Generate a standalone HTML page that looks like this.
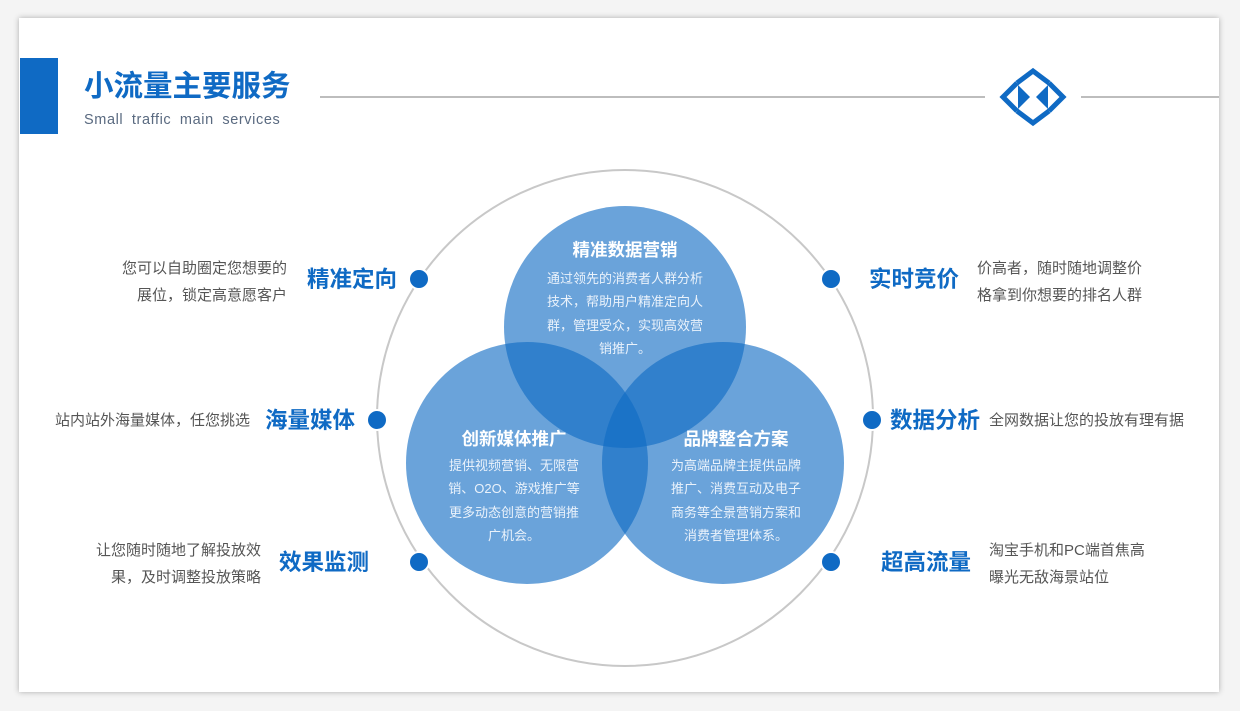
<!DOCTYPE html>
<html><head><meta charset="utf-8"><style>
html,body{margin:0;padding:0;background:#f2f2f2;width:1240px;height:711px;overflow:hidden}
svg{display:block}
text{font-family:"Liberation Sans","Noto Sans CJK SC",sans-serif}
</style></head><body>
<svg width="1240" height="711" viewBox="0 0 1240 711">
<defs><filter id="sh" x="-5%" y="-5%" width="110%" height="110%"><feDropShadow dx="0" dy="0" stdDeviation="3" flood-color="#000" flood-opacity="0.3"/></filter></defs>
<rect x="0" y="0" width="1240" height="711" fill="#f4f4f4"/>
<rect x="19" y="18" width="1200" height="674" fill="#fff" filter="url(#sh)"/>
<rect x="20" y="58" width="38" height="76" fill="#0f6ac4"/>
<text x="84" y="96" font-size="29.5" font-weight="bold" fill="#0f6ac4">小流量主要服务</text>
<text x="84" y="124" font-size="14.5" fill="#5a6a80" letter-spacing="0.6" word-spacing="4">Small traffic main services</text>
<line x1="320" y1="97" x2="985" y2="97" stroke="#bdbdbd" stroke-width="2"/>
<line x1="1081" y1="97" x2="1219" y2="97" stroke="#bdbdbd" stroke-width="2"/>
<g fill="none" stroke="#0f6ac4" stroke-width="5">
<polyline points="1017,83 1033,71 1049,83"/>
<polyline points="1017,111 1033,123 1049,111"/>
<polyline points="1017,83 1003,97 1017,111"/>
<polyline points="1049,83 1063,97 1049,111"/>
</g>
<polygon points="1018,85 1030,97 1018,109" fill="#0f6ac4"/>
<polygon points="1048,85 1036,97 1048,109" fill="#0f6ac4"/>
<circle cx="625" cy="418" r="248" fill="none" stroke="#c8c8c8" stroke-width="2"/>
<g fill="#0f6ac4" fill-opacity="0.62">
<circle cx="625" cy="327" r="121"/>
<circle cx="527" cy="463" r="121"/>
<circle cx="723" cy="463" r="121"/>
</g>
<g fill="#0f6ac4" stroke="#fff" stroke-width="2">
<circle cx="419" cy="279" r="10"/><circle cx="377" cy="420" r="10"/><circle cx="419" cy="562" r="10"/>
<circle cx="831" cy="279" r="10"/><circle cx="872" cy="420" r="10"/><circle cx="831" cy="562" r="10"/>
</g>
<g fill="#fff" text-anchor="middle">
<text x="625" y="256" font-size="17.5" font-weight="bold">精准数据营销</text>
<g font-size="13" fill="#eaf2fb">
<text x="625" y="283">通过领先的消费者人群分析</text>
<text x="625" y="306">技术，帮助用户精准定向人</text>
<text x="625" y="330">群，管理受众，实现高效营</text>
<text x="625" y="353">销推广。</text>
</g>
<text x="514" y="445" font-size="17.5" font-weight="bold">创新媒体推广</text>
<g font-size="13" fill="#eaf2fb">
<text x="514" y="470">提供视频营销、无限营</text>
<text x="514" y="493">销、O2O、游戏推广等</text>
<text x="514" y="517">更多动态创意的营销推</text>
<text x="514" y="540">广机会。</text>
</g>
<text x="736" y="445" font-size="17.5" font-weight="bold">品牌整合方案</text>
<g font-size="13" fill="#eaf2fb">
<text x="736" y="470">为高端品牌主提供品牌</text>
<text x="736" y="493">推广、消费互动及电子</text>
<text x="736" y="517">商务等全景营销方案和</text>
<text x="736" y="540">消费者管理体系。</text>
</g>
</g>
<g font-size="22.5" font-weight="bold" fill="#0f6ac4">
<text x="397" y="287" text-anchor="end">精准定向</text>
<text x="355" y="428" text-anchor="end">海量媒体</text>
<text x="369" y="570" text-anchor="end">效果监测</text>
<text x="869" y="287">实时竞价</text>
<text x="890" y="428">数据分析</text>
<text x="881" y="570">超高流量</text>
</g>
<g font-size="15" fill="#555">
<g text-anchor="end">
<text x="287" y="273">您可以自助圈定您想要的</text>
<text x="287" y="300">展位，锁定高意愿客户</text>
<text x="250" y="425">站内站外海量媒体，任您挑选</text>
<text x="261" y="555">让您随时随地了解投放效</text>
<text x="261" y="582">果，及时调整投放策略</text>
</g>
<text x="977" y="273">价高者，随时随地调整价</text>
<text x="977" y="300">格拿到你想要的排名人群</text>
<text x="989" y="425">全网数据让您的投放有理有据</text>
<text x="989" y="555">淘宝手机和PC端首焦高</text>
<text x="989" y="582">曝光无敌海景站位</text>
</g>
</svg>
</body></html>
